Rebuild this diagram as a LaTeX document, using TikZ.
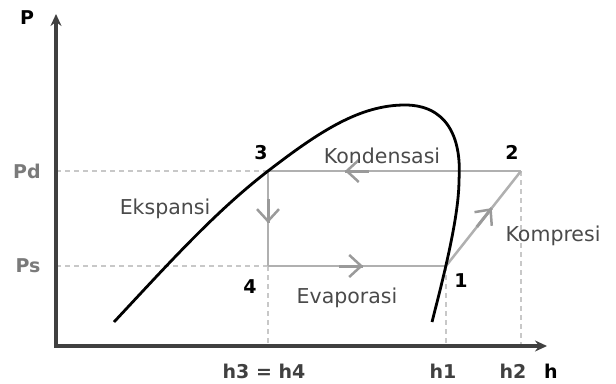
\documentclass[tikz,border=0pt]{standalone}
\usepackage{fontspec}
\setmainfont{DejaVu Sans}
\usetikzlibrary{arrows.meta,decorations.markings}
\definecolor{axisgray}{HTML}{404040}
\definecolor{cyclegray}{HTML}{B0B0B0}
\definecolor{shaftgray}{HTML}{9A9A9A}
\definecolor{dashgray}{HTML}{C8C8C8}
\definecolor{labelgray}{HTML}{4A4A4A}
\definecolor{tickgray}{HTML}{7A7A7A}
\begin{document}
\begin{tikzpicture}[x=1pt,y=-1pt,
  axisline/.style={draw=axisgray,line width=3.5pt,-{Stealth[length=12pt,width=11pt,inset=4pt]}},
  guide/.style={draw=dashgray,line width=2.4pt,dash pattern=on 5pt off 4pt},
  cycle/.style={draw=cyclegray,line width=2.5pt},
  midarrow/.style={postaction={decorate,decoration={markings,
     mark=at position #1 with {\draw[shaftgray,line width=3pt] (0pt,0pt) -- (-24pt,0pt);
       \arrow[shaftgray]{Straight Barb[length=12pt,width=22pt,line width=2.5pt]}}}}},
  proc/.style={text=labelgray,font=\fontsize{20.5}{24}\selectfont,inner sep=0pt},
  num/.style={text=black,font=\fontsize{19}{22}\selectfont\bfseries,inner sep=0pt},
  tick/.style={text=tickgray,font=\fontsize{19}{22}\selectfont\bfseries,inner sep=0pt},
  hlab/.style={text=axisgray,font=\fontsize{19}{22}\selectfont\bfseries,inner sep=0pt},
  satcurve/.style={draw=black,line width=2.8pt}]
\useasboundingbox (0,0) rectangle (616,383);
% key coordinates
\coordinate (O) at (56,346);
\coordinate (Ytop) at (56,14);
\coordinate (Xend) at (547,346);
\coordinate (p3) at (268,171);
\coordinate (p4) at (268,266);
\coordinate (p1) at (446,266);
\coordinate (p2) at (521,171);
\coordinate (yPd) at (56,171);
\coordinate (yPs) at (56,266);
\coordinate (b34) at (268,346);
\coordinate (b1) at (446,346);
\coordinate (b2) at (521,346);
% guides
\draw[guide] (yPd) -- (p3);
\draw[guide] (yPs) -- (p4);
\draw[guide] (p4) -- (b34);
\draw[guide] (p1) -- (b1);
\draw[guide] (p2) -- (b2);
% cycle
\draw[cycle,midarrow=0.696] (p2) -- (p3);
\draw[cycle,midarrow=0.547] (p3) -- (p4);
\draw[cycle,midarrow=0.534] (p4) -- (p1);
\draw[cycle,midarrow=0.61] (p1) -- (p2);
% saturation curve
\draw[satcurve] (114,322) .. controls (170,262) and (215,212) .. (p3)
  .. controls (320,131) and (360,105) .. (405,105)
  .. controls (445,105) and (462,135) .. (459,180)
  .. controls (459,220) and (440,290) .. (432,322);
% axes
\draw[axisline] (O) -- (Ytop);
\draw[axisline] ([xshift=-1.75pt]O) -- (Xend);
% labels
\node[num] (lP) at (27,18) {P};
\node[tick] (lPd) at (27,171) {Pd};
\node[tick] (lPs) at (28,266) {Ps};
\node[num] (l3) at (261,153) {3};
\node[num] (l2) at (512,152) {2};
\node[num] (l1) at (461,281) {1};
\node[num] (l4) at (250,287) {4};
\node[proc] (lK) at (382,156) {Kondensasi};
\node[proc] (lE) at (165,209) {Ekspansi};
\node[proc] (lV) at (347,298) {Evaporasi};
\node[proc] (lC) at (553,236) {Kompresi};
\node[hlab] (lh34) at (264,371) {h3 = h4};
\node[hlab] (lh1) at (443,371) {h1};
\node[hlab] (lh2) at (513,371) {h2};
\node[num] (lh) at (551,371) {h};
\end{tikzpicture}
\end{document}
